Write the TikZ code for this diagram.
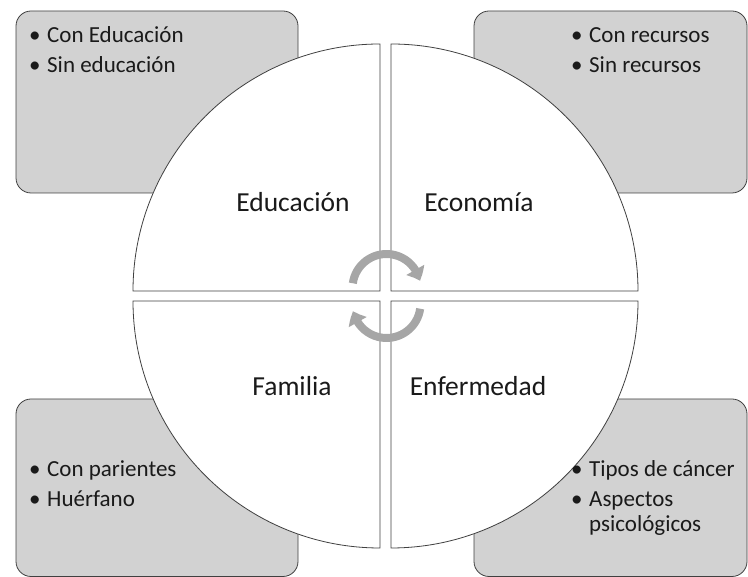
\documentclass[tikz,border=0pt]{standalone}
\usepackage{fontspec}
\setmainfont{Carlito}
\usetikzlibrary{arrows.meta,bending}
\definecolor{boxgray}{HTML}{D2D2D2}
\definecolor{edgegray}{HTML}{404040}
\definecolor{arrowgray}{HTML}{A6A6A6}
\definecolor{txt}{HTML}{1A1A1A}
\newcommand\bitem[1]{\makebox[18pt][l]{\textbullet}#1}
\begin{document}
\begin{tikzpicture}[x=1pt,y=1pt,
  infobox/.style={draw=edgegray, line width=0.8pt, fill=boxgray, rounded corners=15pt},
  quarter/.style={draw=edgegray, line width=0.8pt, fill=white},
  bul/.style={anchor=base west, font=\fontsize{23}{28}\selectfont, text=txt, inner sep=0pt},
  lab/.style={anchor=base, font=\fontsize{27.5}{33}\selectfont, text=txt, inner sep=0pt},
  cyc/.style={draw=arrowgray, line width=8pt, -{Triangle[width=20pt,length=12pt,bend]}}
]
\useasboundingbox (0,0) rectangle (748,577);
% side boxes
\draw[infobox] (16,384) rectangle (298,566);
\draw[infobox] (474,384) rectangle (747,566);
\draw[infobox] (16,0.5) rectangle (298,178);
\draw[infobox] (474,0.5) rectangle (747,178);
% quarter discs
\draw[quarter] (380,286) -- (133,286) arc (180:90:247) -- cycle;
\draw[quarter] (391,286) -- (391,533) arc (90:0:247) -- cycle;
\draw[quarter] (391,276) -- (638,276) arc (0:-90:247) -- cycle;
\draw[quarter] (380,276) -- (380,29) arc (270:180:247) -- cycle;
% cycle arrows
\draw[cyc] (386.5,289) ++(172:34) arc (172:12:34);
\draw[cyc] (386.5,273) ++(-8:34) arc (-8:-168:34);
% quarter labels
\node[lab] (educ) at (293,365) {Educación};
\node[lab] (econ) at (479,365) {Economía};
\node[lab] (fam) at (292,181) {Familia};
\node[lab] (enf) at (478,181) {Enfermedad};
% bullet texts
\node[bul] (tl1) at (29,534) {\bitem{Con Educación}};
\node[bul] (tl2) at (29,504) {\bitem{Sin educación}};
\node[bul] (tr1) at (571,534) {\bitem{Con recursos}};
\node[bul] (tr2) at (571,504) {\bitem{Sin recursos}};
\node[bul] (bl1) at (29,100) {\bitem{Con parientes}};
\node[bul] (bl2) at (29,70) {\bitem{Huérfano}};
\node[bul] (br1) at (571,100) {\bitem{Tipos de cáncer}};
\node[bul] (br2) at (571,70) {\bitem{Aspectos}};
\node[bul] (br3) at (589,45) {psicológicos};
\end{tikzpicture}
\end{document}
